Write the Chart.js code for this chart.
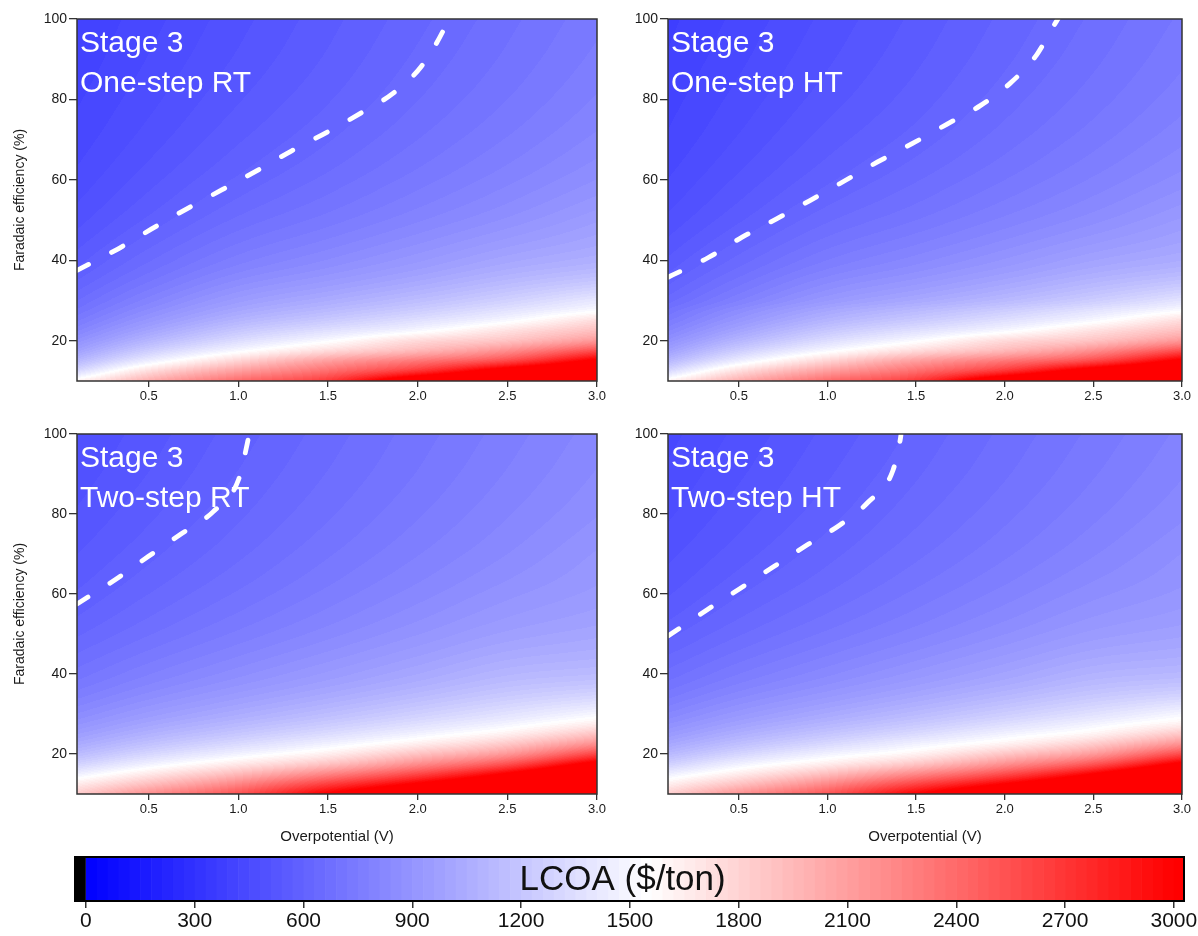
<!DOCTYPE html>
<html>
<head>
<meta charset="utf-8">
<script src="https://cdn.jsdelivr.net/npm/chart.js@4.4.1/dist/chart.umd.min.js"></script>
<style>
  html, body { margin: 0; padding: 0; background: #fff; }
  #wrap { position: relative; width: 1198px; height: 936px; overflow: hidden; }
  canvas { position: absolute; }
</style>
</head>
<body>
<div id="wrap">
  <canvas id="tl" width="615" height="420" style="left:0;top:0"></canvas>
  <canvas id="tr" width="598" height="420" style="left:600px;top:0"></canvas>
  <canvas id="bl" width="615" height="430" style="left:0;top:420px"></canvas>
  <canvas id="br" width="598" height="430" style="left:600px;top:420px"></canvas>
  <canvas id="cb" width="1198" height="86" style="left:0;top:850px"></canvas>
</div>
<script>
const family = 'Arial, "Liberation Sans", Helvetica, sans-serif';

// grid axes of the LCOA maps
const overpotential = [0.1, 0.5, 1.0, 1.5, 2.0, 2.5, 3.0];
const faradaic = [10, 12.5, 15, 17.5, 20, 22.5, 25, 27.5, 30, 35, 40, 50, 60, 70, 80, 90, 100];

const xTicks = [0.5, 1.0, 1.5, 2.0, 2.5, 3.0];
const yTicks = [20, 40, 60, 80, 100];
const cbarTicks = [0, 300, 600, 900, 1200, 1500, 1800, 2100, 2400, 2700, 3000];

// LCOA ($/ton), one row per faradaic efficiency, one column per overpotential
const lcoaOneStepRT = [
  [1620, 2020, 2400, 2700, 3350, 3700, 4200],
  [1315, 1740, 2100, 2380, 2720, 3200, 3600],
  [1117, 1448, 1800, 2100, 2330, 2600, 3100],
  [980, 1250, 1520, 1760, 1960, 2200, 2580],
  [881, 1106, 1340, 1533, 1760, 1900, 2150],
  [805, 999, 1210, 1362, 1515, 1720, 1920],
  [746, 915, 1100, 1230, 1362, 1519, 1750],
  [698, 850, 1015, 1129, 1245, 1380, 1535],
  [659, 796, 947, 1048, 1152, 1271, 1410],
  [600, 715, 844, 928, 1017, 1115, 1200],
  [557, 656, 766, 843, 923, 1009, 1070],
  [498, 577, 668, 735, 805, 877, 955],
  [460, 528, 606, 670, 735, 801, 871],
  [434, 494, 566, 627, 690, 753, 819],
  [416, 470, 537, 597, 659, 720, 784],
  [401, 452, 515, 575, 637, 697, 759],
  [390, 438, 499, 559, 620, 680, 741]
];
const lcoaOneStepHT = [
  [1620, 2020, 2400, 2700, 3350, 3700, 4200],
  [1315, 1740, 2100, 2380, 2720, 3200, 3600],
  [1117, 1448, 1800, 2100, 2330, 2600, 3100],
  [980, 1250, 1520, 1760, 1960, 2200, 2580],
  [881, 1106, 1340, 1533, 1760, 1900, 2150],
  [805, 999, 1210, 1362, 1515, 1720, 1920],
  [746, 915, 1100, 1230, 1362, 1519, 1750],
  [698, 850, 1015, 1129, 1245, 1380, 1535],
  [646, 780, 928, 1027, 1129, 1246, 1382],
  [588, 701, 827, 909, 997, 1093, 1176],
  [546, 643, 751, 826, 905, 989, 1049],
  [488, 565, 655, 720, 789, 859, 936],
  [451, 517, 594, 657, 720, 785, 854],
  [425, 484, 555, 614, 676, 738, 803],
  [408, 461, 526, 585, 646, 706, 768],
  [393, 443, 505, 564, 624, 683, 744],
  [382, 429, 489, 548, 608, 666, 726]
];
const lcoaTwoStepRT = [
  [1850, 2200, 2550, 3050, 3500, 4000, 4800],
  [1660, 1920, 2250, 2650, 3050, 3500, 4200],
  [1456, 1680, 1950, 2250, 2600, 3050, 3700],
  [1273, 1467, 1680, 1900, 2200, 2550, 3150],
  [1139, 1302, 1476, 1650, 1900, 2150, 2620],
  [1037, 1177, 1326, 1473, 1650, 1870, 2200],
  [958, 1080, 1210, 1337, 1478, 1640, 1900],
  [894, 1004, 1119, 1232, 1356, 1486, 1660],
  [842, 941, 1046, 1148, 1259, 1374, 1502],
  [762, 846, 937, 1025, 1118, 1213, 1280],
  [704, 778, 859, 938, 1020, 1104, 1140],
  [625, 687, 758, 827, 898, 968, 1010],
  [574, 630, 695, 760, 825, 890, 940],
  [540, 591, 653, 716, 778, 840, 904],
  [514, 563, 624, 685, 746, 807, 868],
  [495, 541, 602, 662, 722, 783, 843],
  [480, 525, 585, 645, 705, 765, 825]
];
const lcoaTwoStepHT = [
  [1830, 2180, 2530, 3020, 3470, 3980, 4750],
  [1640, 1900, 2230, 2620, 3020, 3470, 4150],
  [1452, 1660, 1930, 2230, 2570, 3020, 3650],
  [1262, 1464, 1660, 1880, 2180, 2520, 3100],
  [1123, 1293, 1473, 1630, 1880, 2130, 2590],
  [1018, 1163, 1317, 1470, 1630, 1850, 2180],
  [936, 1063, 1197, 1328, 1475, 1620, 1880],
  [869, 984, 1102, 1219, 1348, 1483, 1640],
  [815, 919, 1027, 1132, 1246, 1366, 1500],
  [732, 821, 913, 1004, 1099, 1197, 1266],
  [672, 750, 832, 913, 997, 1083, 1119],
  [590, 656, 728, 797, 869, 941, 982],
  [537, 597, 662, 728, 793, 859, 909],
  [502, 556, 619, 682, 744, 807, 871],
  [475, 527, 588, 650, 711, 772, 833],
  [456, 505, 566, 626, 686, 747, 807],
  [440, 488, 548, 608, 668, 728, 788]
];

// dashed contour lines (overpotential, faradaic efficiency)
const dashOneStepRT_V = [0.1, 0.325, 0.514, 0.71, 0.907, 1.104, 1.30, 1.497, 1.694, 1.862, 2.02, 2.14, 2.17];
const dashOneStepRT_FE = [37.5, 42.75, 47.75, 52.75, 57.5, 62.3, 67.3, 71.9, 76.9, 81.5, 88.2, 96.9, 100];
const dashOneStepHT_V = [0.1, 0.328, 0.516, 0.71, 0.898, 1.09, 1.28, 1.477, 1.67, 1.86, 2.03, 2.18, 2.28, 2.30];
const dashOneStepHT_FE = [35.8, 40.7, 45.7, 50.25, 54.8, 59.6, 64.4, 69, 73.75, 78.4, 84, 91.1, 98.6, 100];
const dashTwoStepRT_V = [0.1, 0.317, 0.495, 0.68, 0.86, 1.0, 1.05, 1.06];
const dashTwoStepRT_FE = [57.5, 63.7, 69.3, 75, 80.6, 88.5, 97.7, 100];
const dashTwoStepHT_V = [0.1, 0.319, 0.507, 0.695, 0.884, 1.07, 1.23, 1.37, 1.41, 1.415];
const dashTwoStepHT_FE = [49.5, 56, 61.4, 66.8, 72.25, 77.25, 83, 91, 98.5, 100];

const LEVEL = 30;

function lcoaColor(val) {
  if (val < 0) return [0, 0, 0];
  const mid = 1550;
  if (val <= mid) {
    const c = Math.round(255 * val / mid);
    return [c, c, 255];
  }
  const t = Math.min(1, (val - mid) / (3000 - mid));
  const c = Math.round(255 * (1 - t));
  return [255, c, c];
}

function locate(arr, v) {
  if (v <= arr[0]) return [0, 0];
  for (let i = 0; i < arr.length - 1; i++) {
    if (v <= arr[i + 1]) return [i, (v - arr[i]) / (arr[i + 1] - arr[i])];
  }
  return [arr.length - 2, 1];
}

// smooth (cubic Hermite) reading between grid nodes
function hermite(xs, ys, xv) {
  const n = xs.length;
  const [i, t] = locate(xs, xv);
  const h = xs[i + 1] - xs[i];
  const slope = k => k === 0 ? (ys[1] - ys[0]) / (xs[1] - xs[0])
    : k === n - 1 ? (ys[n - 1] - ys[n - 2]) / (xs[n - 1] - xs[n - 2])
    : (ys[k + 1] - ys[k - 1]) / (xs[k + 1] - xs[k - 1]);
  const t2 = t * t, t3 = t2 * t;
  return (2 * t3 - 3 * t2 + 1) * ys[i] + (t3 - 2 * t2 + t) * h * slope(i)
    + (-2 * t3 + 3 * t2) * ys[i + 1] + (t3 - t2) * h * slope(i + 1);
}

// paints the map under the dashed line, through the chart scales
function heatPlugin(grid) {
  return {
    id: 'heat',
    beforeDatasetsDraw(chart) {
      const { ctx, chartArea: a, scales: { x, y } } = chart;
      const w = Math.round(a.right - a.left), h = Math.round(a.bottom - a.top);
      const img = ctx.createImageData(w, h);
      const feRows = [];
      for (let j = 0; j < h; j++) feRows.push(y.getValueForPixel(a.top + j + 0.5));
      for (let i = 0; i < w; i++) {
        const v = x.getValueForPixel(a.left + i + 0.5);
        const column = grid.map(row => hermite(overpotential, row, v));
        for (let j = 0; j < h; j++) {
          const val = hermite(faradaic, column, feRows[j]);
          const q = Math.floor(val / LEVEL) * LEVEL + LEVEL / 2;
          const col = lcoaColor(q);
          const k = (j * w + i) * 4;
          img.data[k] = col[0]; img.data[k + 1] = col[1]; img.data[k + 2] = col[2]; img.data[k + 3] = 255;
        }
      }
      ctx.putImageData(img, Math.round(a.left), Math.round(a.top));
    }
  };
}

const framePlugin = {
  id: 'frame',
  afterDatasetsDraw(chart) {
    const { ctx, chartArea: a } = chart;
    ctx.save();
    ctx.strokeStyle = '#333';
    ctx.lineWidth = 1.5;
    ctx.strokeRect(a.left, a.top, a.right - a.left, a.bottom - a.top);
    ctx.restore();
  }
};

function labelPlugin(lines) {
  return {
    id: 'panelLabel',
    afterDatasetsDraw(chart) {
      const { ctx, chartArea: a } = chart;
      ctx.save();
      ctx.fillStyle = '#fff';
      ctx.font = '30px ' + family;
      ctx.textBaseline = 'alphabetic';
      ctx.fillText(lines[0], a.left + 3, a.top + 33);
      ctx.fillText(lines[1], a.left + 3, a.top + 73);
      ctx.restore();
    }
  };
}

function makePanel(id, grid, dashV, dashFE, lines, o) {
  new Chart(document.getElementById(id), {
    type: 'scatter',
    data: {
      datasets: [{
        data: dashV.map((v, i) => ({ x: v, y: dashFE[i] })),
        showLine: true,
        borderColor: '#fff',
        borderWidth: 4.8,
        borderDash: [13, 26],
        borderCapStyle: 'round',
        pointRadius: 0,
        cubicInterpolationMode: 'monotone'
      }]
    },
    options: {
      responsive: false,
      animation: false,
      events: [],
      layout: { padding: { left: 0, top: o.top, right: o.right, bottom: 0 } },
      plugins: { legend: { display: false }, tooltip: { enabled: false } },
      scales: {
        x: {
          type: 'linear', min: 0.1, max: 3.0,
          afterBuildTicks: s => { s.ticks = xTicks.map(v => ({ value: v })); },
          afterFit: s => { s.height = o.xh; s.paddingLeft = 0; s.paddingRight = 0; },
          ticks: { callback: v => v.toFixed(1), font: { size: 13, family }, color: '#1a1a1a', padding: 2, maxRotation: 0, autoSkip: false },
          grid: { drawOnChartArea: false, drawTicks: true, tickLength: 6, color: '#333', lineWidth: 1.3 },
          border: { display: false },
          title: { display: o.xTitle, text: 'Overpotential (V)', font: { size: 15, family }, color: '#1a1a1a', padding: { top: 0, bottom: 4 } }
        },
        y: {
          type: 'linear', min: 10, max: 100,
          afterBuildTicks: s => { s.ticks = yTicks.map(v => ({ value: v })); },
          afterFit: s => { s.width = o.yw; s.paddingTop = 0; s.paddingBottom = 0; },
          ticks: { font: { size: 14, family }, color: '#1a1a1a', padding: 2, autoSkip: false },
          grid: { drawOnChartArea: false, drawTicks: true, tickLength: 8, color: '#333', lineWidth: 1.3 },
          border: { display: false },
          title: { display: o.yTitle, text: 'Faradaic efficiency (%)', font: { size: 14, family }, color: '#1a1a1a', padding: { top: 12, bottom: 0 } }
        }
      }
    },
    plugins: [heatPlugin(grid), framePlugin, labelPlugin(lines)]
  });
}

makePanel('tl', lcoaOneStepRT, dashOneStepRT_V, dashOneStepRT_FE, ['Stage 3', 'One-step RT'],
  { top: 19, right: 18, xh: 39, yw: 77, xTitle: false, yTitle: true });
makePanel('tr', lcoaOneStepHT, dashOneStepHT_V, dashOneStepHT_FE, ['Stage 3', 'One-step HT'],
  { top: 19, right: 16, xh: 39, yw: 68, xTitle: false, yTitle: false });
makePanel('bl', lcoaTwoStepRT, dashTwoStepRT_V, dashTwoStepRT_FE, ['Stage 3', 'Two-step RT'],
  { top: 14, right: 18, xh: 56, yw: 77, xTitle: true, yTitle: true });
makePanel('br', lcoaTwoStepHT, dashTwoStepHT_V, dashTwoStepHT_FE, ['Stage 3', 'Two-step HT'],
  { top: 14, right: 16, xh: 56, yw: 68, xTitle: true, yTitle: false });

// colour bar
const colorBarPlugin = {
  id: 'colorBar',
  beforeDatasetsDraw(chart) {
    const { ctx, chartArea: a, scales: { x } } = chart;
    ctx.save();
    ctx.fillStyle = '#000';
    ctx.fillRect(a.left, a.top, x.getPixelForValue(0) - a.left, a.bottom - a.top);
    for (let v = 0; v < x.max; v += LEVEL) {
      const x0 = x.getPixelForValue(v);
      const x1 = Math.min(x.getPixelForValue(v + LEVEL), a.right);
      const col = lcoaColor(v + LEVEL / 2);
      ctx.fillStyle = `rgb(${col[0]},${col[1]},${col[2]})`;
      ctx.fillRect(x0, a.top, x1 - x0 + 0.6, a.bottom - a.top);
    }
    ctx.strokeStyle = '#000';
    ctx.lineWidth = 2;
    ctx.strokeRect(a.left, a.top, a.right - a.left, a.bottom - a.top);
    ctx.fillStyle = '#111';
    ctx.font = '35px ' + family;
    ctx.textAlign = 'center';
    ctx.textBaseline = 'middle';
    ctx.fillText('LCOA ($/ton)', x.getPixelForValue(1480), (a.top + a.bottom) / 2 + 1);
    ctx.restore();
  }
};

new Chart(document.getElementById('cb'), {
  type: 'scatter',
  data: { datasets: [] },
  options: {
    responsive: false,
    animation: false,
    events: [],
    layout: { padding: { left: 75, right: 14, top: 7, bottom: 0 } },
    plugins: { legend: { display: false }, tooltip: { enabled: false } },
    scales: {
      x: {
        type: 'linear', min: -30, max: 3028,
        afterBuildTicks: s => { s.ticks = cbarTicks.map(v => ({ value: v })); },
        afterFit: s => { s.height = 35; s.paddingLeft = 0; s.paddingRight = 0; },
        ticks: { callback: v => String(v), font: { size: 21, family }, color: '#111', padding: 1, maxRotation: 0, autoSkip: false },
        grid: { drawOnChartArea: false, drawTicks: true, tickLength: 7, color: '#333', lineWidth: 1.5 },
        border: { display: false }
      },
      y: { display: false, min: 0, max: 1 }
    }
  },
  plugins: [colorBarPlugin]
});
</script>
</body>
</html>
